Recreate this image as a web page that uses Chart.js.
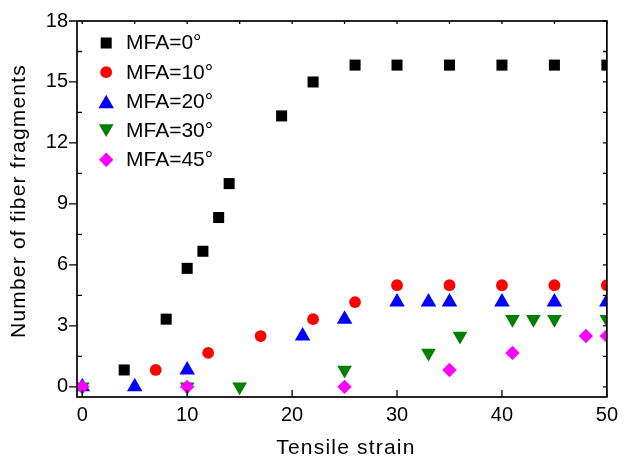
<!DOCTYPE html>
<html>
<head>
<meta charset="utf-8">
<script src="https://cdn.jsdelivr.net/npm/chart.js@4/dist/chart.umd.min.js"></script>
<style>
html,body{margin:0;padding:0;background:#fff;}
canvas{display:block;}
</style>
</head>
<body>
<canvas id="c" width="624" height="456"></canvas>
<script>
// ---------- data ----------
const seriesNames = ['MFA=0°', 'MFA=10°', 'MFA=20°', 'MFA=30°', 'MFA=45°'];

const strainMFA0  = [4, 8, 10, 11.5, 13, 14, 19, 22, 26, 30, 35, 40, 45, 50];
const fragsMFA0   = [0.83, 3.33, 5.83, 6.67, 8.33, 10, 13.33, 15, 15.83, 15.83, 15.83, 15.83, 15.83, 15.83];

const strainMFA10 = [7, 12, 17, 22, 26, 30, 35, 40, 45, 50];
const fragsMFA10  = [0.83, 1.67, 2.5, 3.33, 4.17, 5, 5, 5, 5, 5];

const strainMFA20 = [0, 5, 10, 21, 25, 30, 33, 35, 40, 45, 50];
const fragsMFA20  = [0, 0, 0.83, 2.5, 3.33, 4.17, 4.17, 4.17, 4.17, 4.17, 4.17];

const strainMFA30 = [0, 10, 15, 25, 33, 36, 41, 43, 45, 50];
const fragsMFA30  = [0, 0, 0, 0.83, 1.67, 2.5, 3.33, 3.33, 3.33, 3.33];

const strainMFA45 = [0, 10, 25, 35, 41, 48, 50];
const fragsMFA45  = [0, 0, 0, 0.83, 1.67, 2.5, 2.5];

const xTickValues = [0, 10, 20, 30, 40, 50];
const xTopMinorValues = [5, 15, 25, 35, 45];
const yTickValues = [0, 3, 6, 9, 12, 15, 18];
const yMinorValues = [1.5, 4.5, 7.5, 10.5, 13.5, 16.5];

const xTitle = 'Tensile strain';
const yTitle = 'Number of fiber fragments';

// ---------- styles ----------
const FONT = '"Liberation Sans", Arial, Helvetica, sans-serif';
const styles = [
  { color: '#000000', shape: 'rect',     radius: 7.8, rotation: 0 },
  { color: '#ff0000', shape: 'circle',   radius: 5.9, rotation: 0 },
  { color: '#0000ff', shape: 'triangle', radius: 9.0, rotation: 0 },
  { color: '#008000', shape: 'triangle', radius: 8.5, rotation: 180 },
  { color: '#ff00ff', shape: 'rectRot',  radius: 7.2, rotation: 0 }
];

const xs = [strainMFA0, strainMFA10, strainMFA20, strainMFA30, strainMFA45];
const ys = [fragsMFA0, fragsMFA10, fragsMFA20, fragsMFA30, fragsMFA45];

const datasets = seriesNames.map((name, i) => ({
  label: name,
  data: xs[i].map((x, k) => ({ x: x, y: ys[i][k] })),
  showLine: false,
  pointStyle: styles[i].shape,
  pointRadius: styles[i].radius,
  pointHoverRadius: styles[i].radius,
  pointRotation: styles[i].rotation,
  pointBackgroundColor: styles[i].color,
  pointBorderWidth: 0,
  backgroundColor: styles[i].color,
  borderColor: styles[i].color,
  order: seriesNames.length - i,
  clip: 0
}));

// ---------- plugins ----------
const framePlugin = {
  id: 'frame',
  afterDraw(chart) {
    const ctx = chart.ctx;
    const a = chart.chartArea;
    const x = chart.scales.x, y = chart.scales.y;
    ctx.save();
    ctx.strokeStyle = '#000';
    ctx.lineWidth = 1.3;
    ctx.beginPath();
    yTickValues.forEach(v => {
      const p = y.getPixelForValue(v);
      ctx.moveTo(a.left - 8, p); ctx.lineTo(a.left, p);
      ctx.moveTo(a.right - 4, p); ctx.lineTo(a.right, p);
    });
    yMinorValues.forEach(v => {
      const p = y.getPixelForValue(v);
      ctx.moveTo(a.left, p); ctx.lineTo(a.left + 5, p);
      ctx.moveTo(a.right - 4, p); ctx.lineTo(a.right, p);
    });
    xTickValues.forEach(v => {
      const p = x.getPixelForValue(v);
      ctx.moveTo(p, a.bottom); ctx.lineTo(p, a.bottom - 7);
      ctx.moveTo(p, a.top); ctx.lineTo(p, a.top + 3);
    });
    xTopMinorValues.forEach(v => {
      const p = x.getPixelForValue(v);
      ctx.moveTo(p, a.top); ctx.lineTo(p, a.top + 3);
    });
    ctx.stroke();
    ctx.lineWidth = 1.7;
    ctx.strokeRect(a.left, a.top, a.right - a.left, a.bottom - a.top);

    // axis titles
    ctx.fillStyle = '#000';
    ctx.font = '21px ' + FONT;
    if ('letterSpacing' in ctx) ctx.letterSpacing = '1.2px';
    ctx.textAlign = 'center';
    ctx.textBaseline = 'alphabetic';
    ctx.fillText(xTitle, (a.left + a.right) / 2 + 4, a.bottom + 57);
    ctx.save();
    ctx.translate(25, (a.top + a.bottom) / 2 - 8);
    ctx.rotate(-Math.PI / 2);
    ctx.fillText(yTitle, 0, 0);
    ctx.restore();
    if ('letterSpacing' in ctx) ctx.letterSpacing = '0px';

    // legend
    ctx.font = '21px ' + FONT;
    ctx.textAlign = 'left';
    seriesNames.forEach((name, i) => {
      const st = styles[i];
      const rowC = a.top + 20.8 + i * 29.2;
      let my = rowC + 1.2;
      if (st.shape === 'triangle') my += (st.rotation === 180 ? -1 : 1) * st.radius / 4;
      ctx.fillStyle = st.color;
      Chart.helpers.drawPoint(ctx, { pointStyle: st.shape, radius: st.radius, rotation: st.rotation, borderWidth: 0 }, a.left + 29.2, my);
      ctx.fillStyle = '#000';
      ctx.fillText(name, a.left + 49, rowC + 7.5);
    });
    ctx.restore();
  }
};

// ---------- chart ----------
new Chart(document.getElementById('c'), {
  type: 'scatter',
  data: { datasets: datasets },
  options: {
    responsive: false,
    animation: false,
    events: [],
    devicePixelRatio: 1,
    layout: { padding: { top: 18, right: 14, left: 0, bottom: 0 } },
    plugins: { legend: { display: false }, tooltip: { enabled: false } },
    scales: {
      x: {
        type: 'linear', min: -0.5, max: 50,
        grid: { display: false, drawTicks: false },
        border: { display: false },
        ticks: { color: '#000', font: { size: 20, family: FONT }, padding: 6, maxRotation: 0 },
        afterBuildTicks: s => { s.ticks = xTickValues.map(v => ({ value: v })); },
        afterFit: s => { s.height = 59; }
      },
      y: {
        type: 'linear', min: -0.5, max: 18,
        grid: { display: false, drawTicks: false },
        border: { display: false },
        ticks: { color: '#000', font: { size: 20, family: FONT }, padding: 9 },
        afterBuildTicks: s => { s.ticks = yTickValues.map(v => ({ value: v })); },
        afterFit: s => { s.width = 77; }
      }
    }
  },
  plugins: [framePlugin]
});
</script>
</body>
</html>
